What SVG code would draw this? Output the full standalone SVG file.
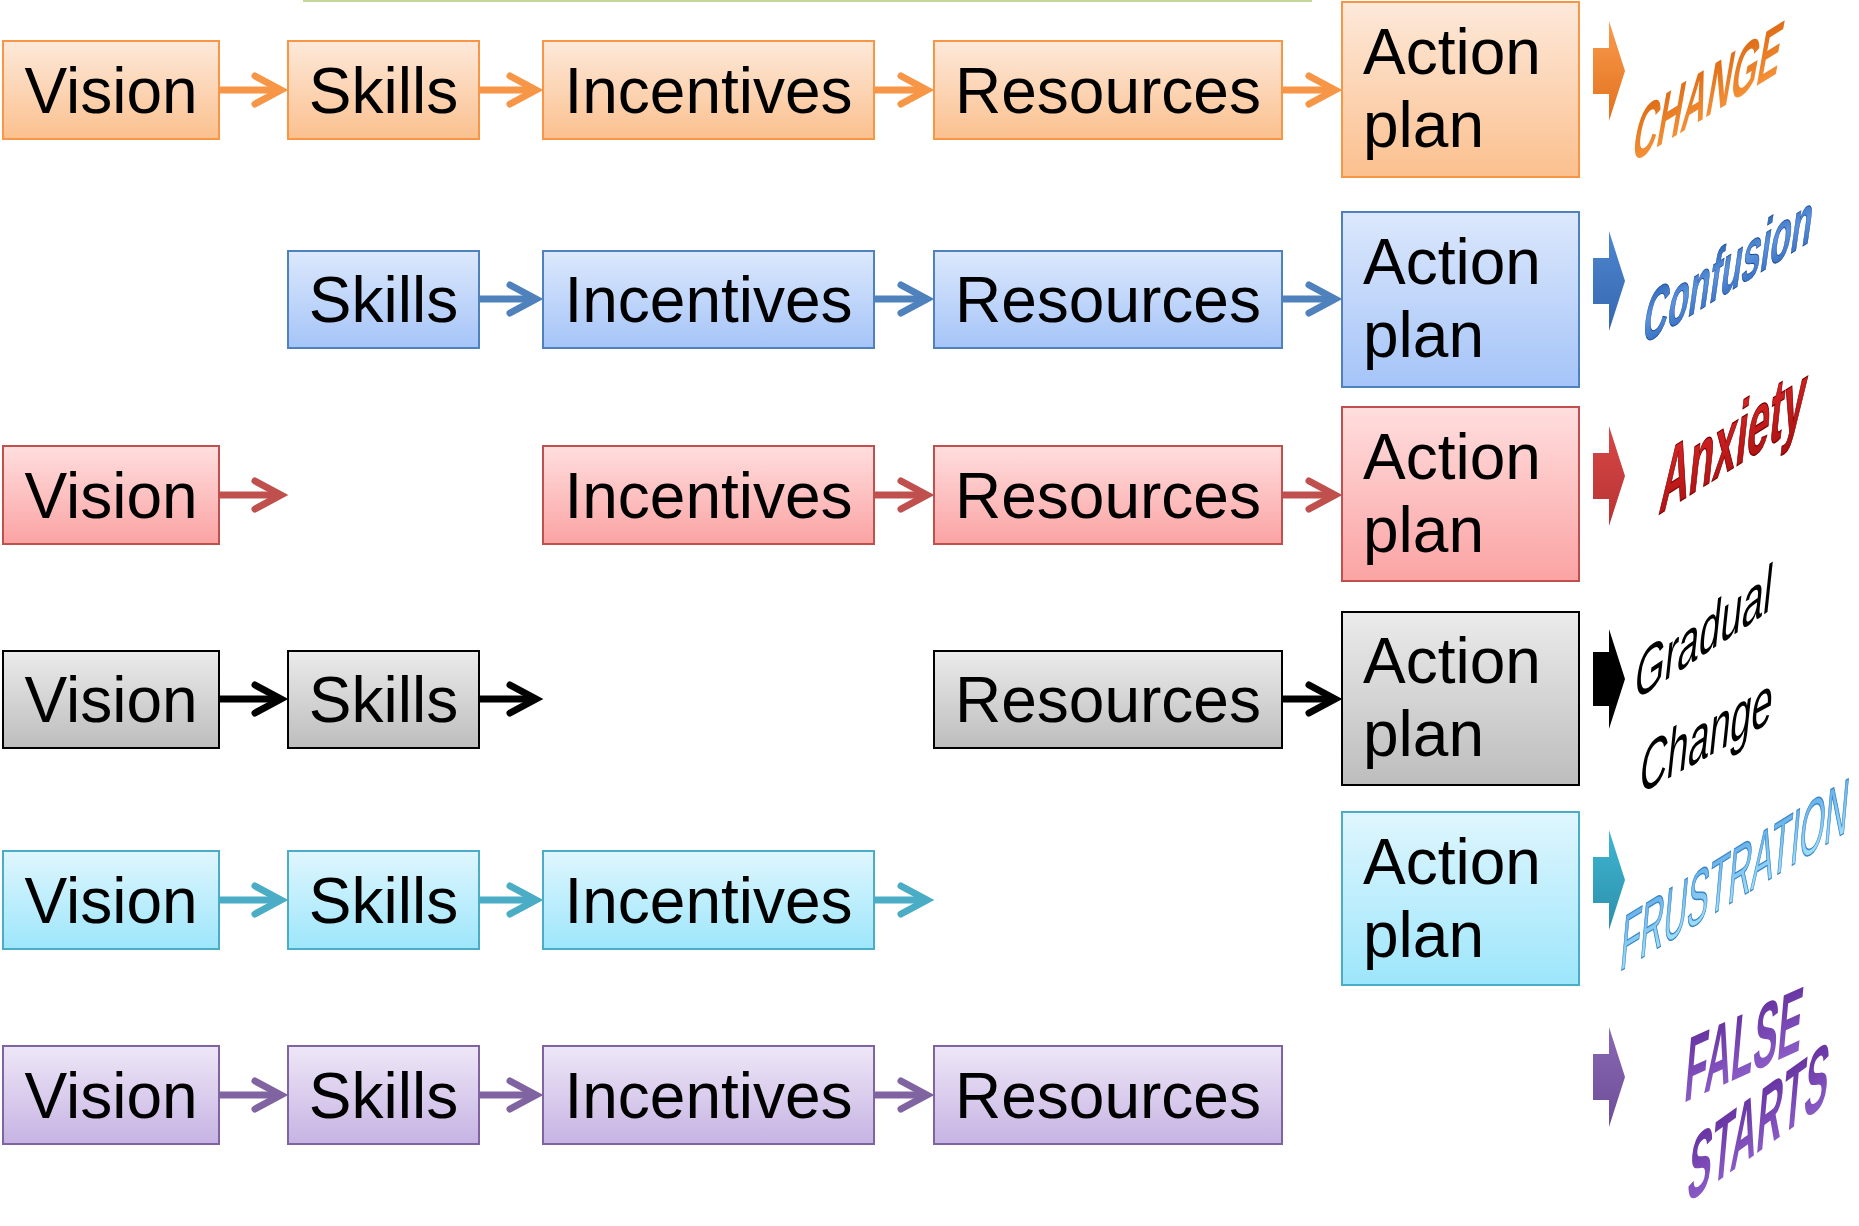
<svg xmlns="http://www.w3.org/2000/svg" width="1859" height="1226" viewBox="0 0 1859 1226">
<defs>
<linearGradient id="g-o" x1="0" y1="0" x2="0" y2="1"><stop offset="0" stop-color="#FDE9DA"/><stop offset="1" stop-color="#FBC08E"/></linearGradient>
<linearGradient id="g-b" x1="0" y1="0" x2="0" y2="1"><stop offset="0" stop-color="#DCE8FC"/><stop offset="1" stop-color="#A5C4F8"/></linearGradient>
<linearGradient id="g-r" x1="0" y1="0" x2="0" y2="1"><stop offset="0" stop-color="#FFDEDE"/><stop offset="1" stop-color="#FBA3A3"/></linearGradient>
<linearGradient id="g-k" x1="0" y1="0" x2="0" y2="1"><stop offset="0" stop-color="#EBEBEB"/><stop offset="1" stop-color="#BDBDBD"/></linearGradient>
<linearGradient id="g-c" x1="0" y1="0" x2="0" y2="1"><stop offset="0" stop-color="#DFF6FE"/><stop offset="1" stop-color="#9DE6FB"/></linearGradient>
<linearGradient id="g-p" x1="0" y1="0" x2="0" y2="1"><stop offset="0" stop-color="#EEE7F7"/><stop offset="1" stop-color="#C6B3E3"/></linearGradient>
<linearGradient id="ba-o" x1="0" y1="0" x2="0" y2="1"><stop offset="0" stop-color="#F99B4E"/><stop offset="1" stop-color="#E2711C"/></linearGradient>
<linearGradient id="ba-b" x1="0" y1="0" x2="0" y2="1"><stop offset="0" stop-color="#4F86CF"/><stop offset="1" stop-color="#3468B0"/></linearGradient>
<linearGradient id="ba-r" x1="0" y1="0" x2="0" y2="1"><stop offset="0" stop-color="#D84848"/><stop offset="1" stop-color="#B83232"/></linearGradient>
<linearGradient id="ba-c" x1="0" y1="0" x2="0" y2="1"><stop offset="0" stop-color="#3FB6D2"/><stop offset="1" stop-color="#2C8FAA"/></linearGradient>
<linearGradient id="ba-p" x1="0" y1="0" x2="0" y2="1"><stop offset="0" stop-color="#8A68B4"/><stop offset="1" stop-color="#6D4E98"/></linearGradient>
<linearGradient id="w-o" x1="0" y1="0" x2="0" y2="1"><stop offset="0" stop-color="#D8640E"/><stop offset="1" stop-color="#FA9A40"/></linearGradient>
<linearGradient id="w-b" x1="0" y1="0" x2="0" y2="1"><stop offset="0" stop-color="#1F55A8"/><stop offset="0.5" stop-color="#5C93DE"/><stop offset="1" stop-color="#2A62B8"/></linearGradient>
<linearGradient id="w-r" x1="0" y1="0" x2="0" y2="1"><stop offset="0" stop-color="#E02828"/><stop offset="1" stop-color="#A80F0F"/></linearGradient>
<linearGradient id="w-c" x1="0" y1="0" x2="0" y2="1"><stop offset="0" stop-color="#5AA6E6"/><stop offset="1" stop-color="#AEEBFB"/></linearGradient>
<linearGradient id="w-p" x1="0" y1="0" x2="0" y2="1"><stop offset="0" stop-color="#5E2A98"/><stop offset="1" stop-color="#9466D0"/></linearGradient>
<marker id="ah-o" markerUnits="userSpaceOnUse" viewBox="0 0 50 40" markerWidth="50" markerHeight="40" refX="35" refY="20" orient="auto"><path d="M10,6 L36,20 L10,34" fill="none" stroke="#F79646" stroke-width="7" stroke-linecap="round"/></marker>
<marker id="ah-b" markerUnits="userSpaceOnUse" viewBox="0 0 50 40" markerWidth="50" markerHeight="40" refX="35" refY="20" orient="auto"><path d="M10,6 L36,20 L10,34" fill="none" stroke="#4F81BD" stroke-width="7" stroke-linecap="round"/></marker>
<marker id="ah-r" markerUnits="userSpaceOnUse" viewBox="0 0 50 40" markerWidth="50" markerHeight="40" refX="35" refY="20" orient="auto"><path d="M10,6 L36,20 L10,34" fill="none" stroke="#C0504D" stroke-width="7" stroke-linecap="round"/></marker>
<marker id="ah-k" markerUnits="userSpaceOnUse" viewBox="0 0 50 40" markerWidth="50" markerHeight="40" refX="35" refY="20" orient="auto"><path d="M10,6 L36,20 L10,34" fill="none" stroke="#000000" stroke-width="7" stroke-linecap="round"/></marker>
<marker id="ah-c" markerUnits="userSpaceOnUse" viewBox="0 0 50 40" markerWidth="50" markerHeight="40" refX="35" refY="20" orient="auto"><path d="M10,6 L36,20 L10,34" fill="none" stroke="#4BACC6" stroke-width="7" stroke-linecap="round"/></marker>
<marker id="ah-p" markerUnits="userSpaceOnUse" viewBox="0 0 50 40" markerWidth="50" markerHeight="40" refX="35" refY="20" orient="auto"><path d="M10,6 L36,20 L10,34" fill="none" stroke="#8064A2" stroke-width="7" stroke-linecap="round"/></marker>
</defs>
<style>
text{font-family:"Liberation Sans",Arial,sans-serif;}
.lbl{font-size:64px;fill:#000;text-anchor:middle;}
.al{font-size:64px;fill:#000;}
.o rect{fill:url(#g-o);stroke:#F79646;stroke-width:2;}
.b rect{fill:url(#g-b);stroke:#4F81BD;stroke-width:2;}
.r rect{fill:url(#g-r);stroke:#C0504D;stroke-width:2;}
.k rect{fill:url(#g-k);stroke:#000;stroke-width:2;}
.c rect{fill:url(#g-c);stroke:#4BACC6;stroke-width:2;}
.p rect{fill:url(#g-p);stroke:#8064A2;stroke-width:2;}
.ln{stroke-width:7;fill:none;}
.lo{stroke:#F79646;marker-end:url(#ah-o);}
.lb{stroke:#4F81BD;marker-end:url(#ah-b);}
.lr{stroke:#C0504D;marker-end:url(#ah-r);}
.lk{stroke:#000;marker-end:url(#ah-k);}
.lc{stroke:#4BACC6;marker-end:url(#ah-c);}
.lp{stroke:#8064A2;marker-end:url(#ah-p);}
</style>
<rect width="1859" height="1226" fill="#fff"/>
<line x1="303" y1="1" x2="1312" y2="1" stroke="#C4D79B" stroke-width="2"/>

<!-- Row 1 orange -->
<g id="r1-vision" class="o"><rect x="3" y="41" width="216" height="98"/><text class="lbl" x="111" y="113">Vision</text></g>
<g id="r1-skills" class="o"><rect x="288" y="41" width="191" height="98"/><text class="lbl" x="383.5" y="113">Skills</text></g>
<g id="r1-incentives" class="o"><rect x="543" y="41" width="331" height="98"/><text class="lbl" x="708.5" y="113">Incentives</text></g>
<g id="r1-resources" class="o"><rect x="934" y="41" width="348" height="98"/><text class="lbl" x="1108" y="113">Resources</text></g>
<g id="r1-action" class="o"><rect x="1342" y="2" width="237" height="175"/><text class="al" x="1363" y="74">Action</text><text class="al" x="1363" y="147">plan</text></g>

<!-- Row 2 blue -->
<g id="r2-skills" class="b"><rect x="288" y="251" width="191" height="97"/><text class="lbl" x="383.5" y="322">Skills</text></g>
<g id="r2-incentives" class="b"><rect x="543" y="251" width="331" height="97"/><text class="lbl" x="708.5" y="322">Incentives</text></g>
<g id="r2-resources" class="b"><rect x="934" y="251" width="348" height="97"/><text class="lbl" x="1108" y="322">Resources</text></g>
<g id="r2-action" class="b"><rect x="1342" y="212" width="237" height="175"/><text class="al" x="1363" y="284">Action</text><text class="al" x="1363" y="357">plan</text></g>

<!-- Row 3 red -->
<g id="r3-vision" class="r"><rect x="3" y="446" width="216" height="98"/><text class="lbl" x="111" y="518">Vision</text></g>
<g id="r3-incentives" class="r"><rect x="543" y="446" width="331" height="98"/><text class="lbl" x="708.5" y="518">Incentives</text></g>
<g id="r3-resources" class="r"><rect x="934" y="446" width="348" height="98"/><text class="lbl" x="1108" y="518">Resources</text></g>
<g id="r3-action" class="r"><rect x="1342" y="407" width="237" height="174"/><text class="al" x="1363" y="479">Action</text><text class="al" x="1363" y="552">plan</text></g>

<!-- Row 4 gray -->
<g id="r4-vision" class="k"><rect x="3" y="651" width="216" height="97"/><text class="lbl" x="111" y="722">Vision</text></g>
<g id="r4-skills" class="k"><rect x="288" y="651" width="191" height="97"/><text class="lbl" x="383.5" y="722">Skills</text></g>
<g id="r4-resources" class="k"><rect x="934" y="651" width="348" height="97"/><text class="lbl" x="1108" y="722">Resources</text></g>
<g id="r4-action" class="k"><rect x="1342" y="612" width="237" height="173"/><text class="al" x="1363" y="683">Action</text><text class="al" x="1363" y="756">plan</text></g>

<!-- Row 5 cyan -->
<g id="r5-vision" class="c"><rect x="3" y="851" width="216" height="98"/><text class="lbl" x="111" y="923">Vision</text></g>
<g id="r5-skills" class="c"><rect x="288" y="851" width="191" height="98"/><text class="lbl" x="383.5" y="923">Skills</text></g>
<g id="r5-incentives" class="c"><rect x="543" y="851" width="331" height="98"/><text class="lbl" x="708.5" y="923">Incentives</text></g>
<g id="r5-action" class="c"><rect x="1342" y="812" width="237" height="173"/><text class="al" x="1363" y="884">Action</text><text class="al" x="1363" y="957">plan</text></g>

<!-- Row 6 purple -->
<g id="r6-vision" class="p"><rect x="3" y="1046" width="216" height="98"/><text class="lbl" x="111" y="1118">Vision</text></g>
<g id="r6-skills" class="p"><rect x="288" y="1046" width="191" height="98"/><text class="lbl" x="383.5" y="1118">Skills</text></g>
<g id="r6-incentives" class="p"><rect x="543" y="1046" width="331" height="98"/><text class="lbl" x="708.5" y="1118">Incentives</text></g>
<g id="r6-resources" class="p"><rect x="934" y="1046" width="348" height="98"/><text class="lbl" x="1108" y="1118">Resources</text></g>

<g id="connectors">
<line class="ln lo" x1="219" y1="90" x2="280" y2="90"/>
<line class="ln lo" x1="479" y1="90" x2="535" y2="90"/>
<line class="ln lo" x1="874" y1="90" x2="926" y2="90"/>
<line class="ln lo" x1="1282" y1="90" x2="1334" y2="90"/>
<line class="ln lb" x1="479" y1="299" x2="535" y2="299"/>
<line class="ln lb" x1="874" y1="299" x2="926" y2="299"/>
<line class="ln lb" x1="1282" y1="299" x2="1334" y2="299"/>
<line class="ln lr" x1="219" y1="495" x2="280" y2="495"/>
<line class="ln lr" x1="874" y1="495" x2="926" y2="495"/>
<line class="ln lr" x1="1282" y1="495" x2="1334" y2="495"/>
<line class="ln lk" x1="219" y1="699" x2="280" y2="699"/>
<line class="ln lk" x1="479" y1="699" x2="535" y2="699"/>
<line class="ln lk" x1="1282" y1="699" x2="1334" y2="699"/>
<line class="ln lc" x1="219" y1="900" x2="280" y2="900"/>
<line class="ln lc" x1="479" y1="900" x2="535" y2="900"/>
<line class="ln lc" x1="874" y1="900" x2="926" y2="900"/>
<line class="ln lp" x1="219" y1="1095" x2="280" y2="1095"/>
<line class="ln lp" x1="479" y1="1095" x2="535" y2="1095"/>
<line class="ln lp" x1="874" y1="1095" x2="926" y2="1095"/>
</g>

<!-- outcome arrows and word art -->
<g id="out-change">
<path d="M1593,48 H1609 V21 L1625,71 L1609,121 V94 H1593 Z" fill="url(#ba-o)"/>
<text transform="matrix(0.425,-0.262,-0.174,0.985,1630,164)" font-size="80" font-weight="bold" fill="url(#w-o)">CHANGE</text>
</g>
<g id="out-confusion">
<path d="M1593,258 H1609 V231 L1625,281 L1609,331 V304 H1593 Z" fill="url(#ba-b)"/>
<text transform="matrix(0.449,-0.277,-0.139,0.990,1641,346)" font-size="76" font-weight="bold" fill="url(#w-b)" stroke="#1A4A96" stroke-width="1">Confusion</text>
</g>
<g id="out-anxiety">
<path d="M1593,453 H1609 V426 L1625,476 L1609,526 V499 H1593 Z" fill="url(#ba-r)"/>
<text transform="matrix(0.437,-0.273,-0.105,0.995,1658,515)" font-size="92" font-weight="bold" fill="url(#w-r)" stroke="#7A0000" stroke-width="1.5">Anxiety</text>
</g>
<g id="out-gradual">
<path d="M1593,652 H1609 V629 L1625,679 L1609,729 V706 H1593 Z" fill="#000"/>
<text transform="matrix(0.551,-0.368,-0.105,0.995,1633,702)" font-size="70" fill="#000">Gradual</text>
<text transform="matrix(0.526,-0.289,-0.105,0.995,1638,795)" font-size="72" fill="#000">Change</text>
</g>
<g id="out-frustration">
<path d="M1593,857 H1609 V830 L1625,880 L1609,930 V903 H1593 Z" fill="url(#ba-c)"/>
<text transform="matrix(0.404,-0.249,-0.087,0.996,1619,972)" font-size="80" fill="url(#w-c)" stroke="#3A86C8" stroke-width="1.5">FRUSTRATION</text>
</g>
<g id="out-false">
<path d="M1593,1054 H1609 V1027 L1625,1077 L1609,1127 V1100 H1593 Z" fill="url(#ba-p)"/>
<text transform="matrix(0.386,-0.175,-0.087,0.996,1683,1103)" font-size="94" font-weight="bold" fill="url(#w-p)">FALSE</text>
<text transform="matrix(0.380,-0.272,-0.087,0.996,1686,1204)" font-size="94" font-weight="bold" fill="url(#w-p)">STARTS</text>
</g>
</svg>
